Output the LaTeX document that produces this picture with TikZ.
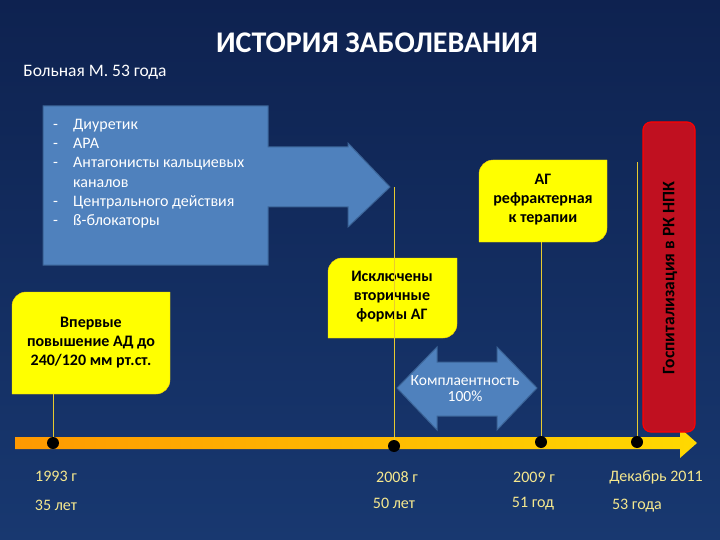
\documentclass[tikz,border=0pt]{standalone}
\usepackage{fontspec}
\setmainfont{Carlito}
\begin{document}
\begin{tikzpicture}[x=1pt,y=-1pt,
  ybox/.style={fill=yellow!95!orange,draw=yellow!70!orange,rounded corners=0pt},
  ytxt/.style={font=\fontsize{16}{19}\selectfont\bfseries,align=center,text=black},
  vline/.style={draw=yellow!60!brown,line width=0.8pt},
  dot/.style={circle,fill=black,inner sep=0pt,minimum size=12pt},
  lab/.style={text=yellow!40!white!85!brown,font=\fontsize{16}{18}\selectfont},
  barrow/.style={fill=Bl,draw=Bd,line width=1pt}]
\definecolor{Bl}{HTML}{4F81BD}\definecolor{Bd}{HTML}{3B6396}
\definecolor{Yl}{HTML}{FFFF00}
\useasboundingbox (0,0) rectangle (720,540);
\shade[top color={rgb,255:red,14;green,34;blue,80},bottom color={rgb,255:red,24;green,56;blue,112}] (0,0) rectangle (720,540);
\node[text=white,font=\fontsize{30}{32}\selectfont\bfseries] (title) at (377,43) {ИСТОРИЯ ЗАБОЛЕВАНИЯ};
\node[text=white,font=\fontsize{17.5}{19}\selectfont] (sub) at (95,72) {Больная М. 53 года};
% big arrow
\draw[barrow] (43,106) -- (268,106) -- (268,147) -- (348,147) -- (348,143) -- (390,187) -- (348,227) -- (348,207) -- (268,207) -- (268,265) -- (43,265) -- cycle;
\node[anchor=north west,text=white,font=\fontsize{16}{19.2}\selectfont,align=left,inner sep=0pt] (list) at (53,119) {%
\makebox[20pt][l]{-}Диуретик\\
\makebox[20pt][l]{-}АРА\\
\makebox[20pt][l]{-}Антагонисты кальциевых\\
\makebox[20pt][l]{}каналов\\
\makebox[20pt][l]{-}Центрального действия\\
\makebox[20pt][l]{-}ß-блокаторы};
% timeline
\shade[left color=orange!80!yellow,right color=yellow!70!orange] (15,437) -- (680,437) -- (680,428) -- (697,443) -- (680,458) -- (680,449) -- (15,449) -- cycle;
\node[dot] (d1) at (53,443) {};
\node[dot] (d2) at (394,446) {};
\node[dot] (d3) at (541,442) {};
\node[dot] (d4) at (637,442) {};
% boxes
\draw[ybox,fill=Yl] (12,306) arc(180:270:14) -- (170,292) -- (170,380) arc(0:90:14) -- (12,394) -- cycle;
\node[ytxt] (b1) at (91,343) {Впервые\\повышение АД до\\240/120 мм рт.ст.};
\draw[ybox,fill=Yl] (328,272) arc(180:270:14) -- (457,258) -- (457,324) arc(0:90:14) -- (328,338) -- cycle;
\node[ytxt] (b2) at (392,297) {Исключены\\вторичные\\формы АГ};
\draw[ybox,fill=Yl] (479,174) arc(180:270:14) -- (607,160) -- (607,228) arc(0:90:14) -- (479,242) -- cycle;
\node[ytxt] (b3) at (543,200) {АГ\\рефрактерная\\к терапии};
\coordinate (t1) at (53,394);
\coordinate (t2) at (394,187);
\coordinate (t3) at (541,242);
\coordinate (t4) at (637,162);
\draw[vline] (d1) -- (t1);
\draw[vline] (d2) -- (t2);
\draw[vline] (d3) -- (t3);
\draw[vline] (d4) -- (t4);
% red box
\draw[fill={rgb,255:red,192;green,16;blue,32},draw=red,line width=1.2pt,rounded corners=8pt] (643,122) rectangle (695,432);
\node[rotate=90,font=\fontsize{17.5}{19}\selectfont\bfseries,text=black] (hosp) at (670,278) {Госпитализация в РК НПК};
% double arrow
\draw[barrow] (397,388) -- (437,347) -- (437,362) -- (497,362) -- (497,347) -- (537,388) -- (497,430) -- (497,416) -- (437,416) -- (437,430) -- cycle;
\node[text=white,font=\fontsize{15.5}{16}\selectfont,align=center] (comp) at (465,389) {Комплаентность\\100\%};
% labels
\node[lab] (l1) at (56,476) {1993 г};
\node[lab] (l2) at (56,505) {35 лет};
\node[lab] (l3) at (397,477) {2008 г};
\node[lab] (l4) at (394,503) {50 лет};
\node[lab] (l5) at (534,477) {2009 г};
\node[lab] (l6) at (533,504) {51 год};
\node[lab] (l7) at (656,477) {Декабрь 2011};
\node[lab] (l8) at (637,506) {53 года};
\end{tikzpicture}
\end{document}
